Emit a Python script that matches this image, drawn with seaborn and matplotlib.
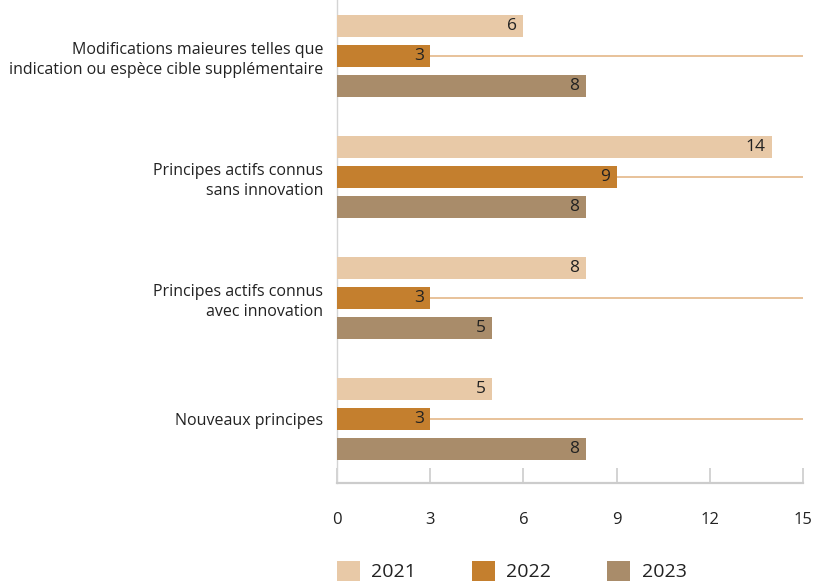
import matplotlib
matplotlib.use('Agg')
import matplotlib.pyplot as plt
import pandas as pd
import seaborn as sns

categories = [
    'Modifications maieures telles que\nindication ou espèce cible supplémentaire',
    'Principes actifs connus\nsans innovation',
    'Principes actifs connus\navec innovation',
    'Nouveaux principes',
]
years = ['2021', '2022', '2023']
values_2021 = [6, 14, 8, 5]
values_2022 = [3, 9, 3, 3]
values_2023 = [8, 8, 5, 8]
x_ticks = [0, 3, 6, 9, 12, 15]
colors = ['#e8c9a7', '#c47f2e', '#a98c6a']

df = pd.DataFrame({
    'Catégorie': categories * 3,
    'Année': [y for y in years for _ in categories],
    'Valeur': values_2021 + values_2022 + values_2023,
})

sns.set_theme(style='white')
plt.rcParams['font.family'] = ['Open Sans', 'DejaVu Sans']

fig = plt.figure(figsize=(8.16, 5.82), dpi=100)
ax = fig.add_axes([337 / 816, 1 - 483 / 582, (803 - 337) / 816, 483 / 582])

sns.barplot(
    data=df, y='Catégorie', x='Valeur', hue='Année', orient='h',
    palette=colors, width=0.744, gap=0.26, saturation=1, linewidth=0,
    ax=ax, zorder=3, legend=False,
)

# value labels inside the bar ends
for container in ax.containers:
    for bar in container:
        w = bar.get_width()
        ax.annotate(
            f'{w:g}', xy=(w, bar.get_y() + bar.get_height() / 2),
            xytext=(-4.5, 0), textcoords='offset points',
            ha='right', va='center', fontsize=12.5, color='#222222', zorder=4,
        )

ax.set_xlim(0, 15)
ax.set_ylim(3.529, -0.463)
ax.set_xticks(x_ticks)
ax.set_xticklabels([str(t) for t in x_ticks])
ax.set_xlabel('')
ax.set_ylabel('')

ax.grid(axis='y', color='#e2b27f', linewidth=1.1, zorder=1)
ax.grid(axis='x', visible=False)

for side in ['top', 'right']:
    ax.spines[side].set_visible(False)
ax.spines['bottom'].set_color('#cccccc')
ax.spines['bottom'].set_linewidth(1.6)
ax.spines['left'].set_color('#d4d4d4')
ax.spines['left'].set_linewidth(1.0)

ax.tick_params(axis='x', direction='in', length=11, width=1.2, color='#cccccc',
               pad=21, labelsize=12, labelcolor='#222222', bottom=True)
ax.tick_params(axis='y', length=0, pad=10, labelsize=11.5, labelcolor='#222222')
for lbl in ax.get_yticklabels():
    lbl.set_horizontalalignment('right')
    lbl.set_multialignment('right')
    lbl.set_linespacing(1.35)

handles = [plt.Rectangle((0, 0), 1, 1, facecolor=c, edgecolor='none') for c in colors]
fig.legend(
    handles, years, loc='upper left', bbox_to_anchor=(329 / 816, 1 - 553 / 582),
    ncol=3, frameon=False, fontsize=14, handlelength=1.18, handleheight=1.2,
    handletextpad=0.57, columnspacing=2.9, borderaxespad=0,
    labelcolor='#222222',
)

fig.savefig('out.png', dpi=100)
